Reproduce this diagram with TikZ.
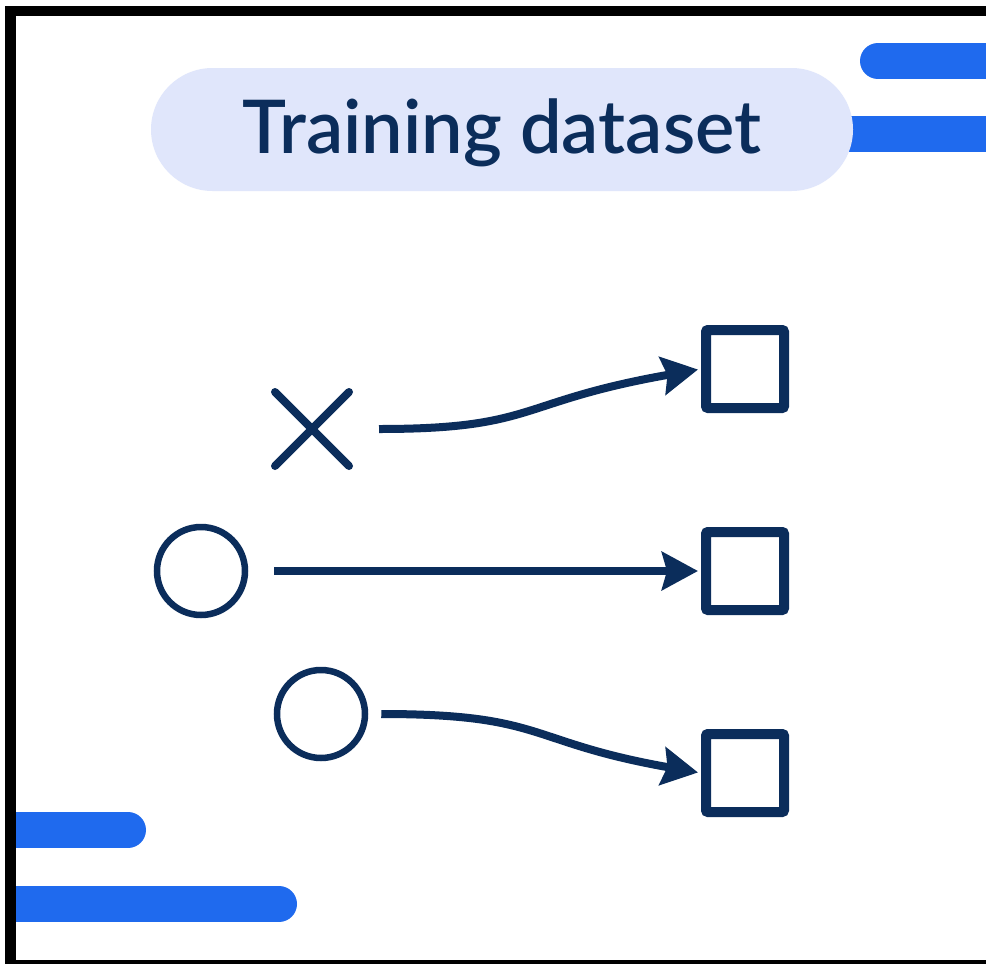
\documentclass[tikz,border=0pt]{standalone}
\usepackage{fontspec}
\IfFontExistsTF{Lato Semibold}{\newfontfamily\titlefont{Lato Semibold}}{\newfontfamily\titlefont{Lato}}
\usetikzlibrary{arrows.meta,shapes.misc}
\definecolor{navy}{HTML}{0B2D5B}
\definecolor{barblue}{HTML}{1F6AEE}
\definecolor{pill}{HTML}{E0E6FB}
\begin{document}
\begin{tikzpicture}[x=1pt,y=-1pt,
  bar/.style={barblue,line width=36pt,line cap=round},
  target/.style={draw=navy,line width=10pt,rectangle,rounded corners=2pt,minimum size=78pt,inner sep=0pt},
  ring/.style={draw=navy,line width=6.5pt,circle,minimum size=88pt,inner sep=0pt},
  crossmark/.style={draw=navy,line width=8pt,cross out,line cap=round,minimum size=66pt,inner sep=0pt},
  link/.style={draw=navy,line width=8pt,-{Stealth[length=36pt,width=38pt,inset=5pt]},shorten >=3pt}
]
\useasboundingbox (0,0) rectangle (986,964);
\fill[white] (0,0) rectangle (986,964);
\begin{scope}
\clip (10,0) rectangle (986,964);
% decorative bars
\draw[bar] (878,61) -- (1030,61);
\draw[bar] (800,134) -- (1030,134);
\draw[bar] (-30,830) -- (128,830);
\draw[bar] (-30,904) -- (279,904);
\end{scope}
% title pill
\node[fill=pill,rounded corners=61.5pt,minimum width=702pt,minimum height=123pt,inner sep=0pt] (title) at (502,129.5) {};
\node[text=navy,font=\titlefont\fontsize{74}{74}\selectfont,anchor=base] (titletext) at (502,153) {Training dataset};
% shapes
\node[crossmark] (x1) at (312,429) {};
\node[ring] (c1) at (201,571) {};
\node[ring] (c2) at (321,714) {};
\node[target] (s1) at (745,369) {};
\node[target] (s2) at (745,571) {};
\node[target] (s3) at (745,773) {};
% connectors
\draw[link,shorten <=30pt] (x1.east) to[out=0,in=190,looseness=1.35] (s1.west);
\draw[link,shorten <=26pt] (c1.east) -- (s2.west);
\draw[link,shorten <=13pt] (c2.east) to[out=0,in=170,looseness=1.35] (s3.west);
% frame
\fill[black] (5,6) rectangle (16,964);
\fill[black] (5,6) rectangle (986,16);
\fill[black] (5,959.5) rectangle (986,964);
\end{tikzpicture}
\end{document}
